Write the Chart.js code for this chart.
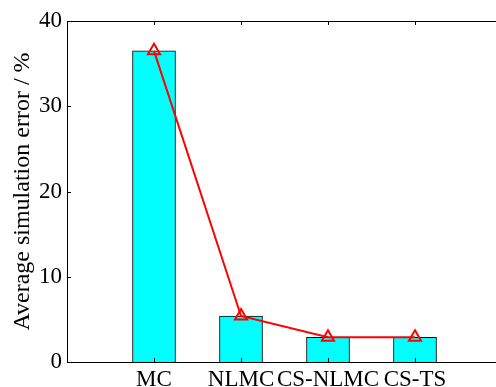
<!DOCTYPE html>
<html>
<head>
<meta charset="utf-8">
<script src="https://cdn.jsdelivr.net/npm/chart.js@4"></script>
<style>
  html, body { margin: 0; padding: 0; background: #fff; overflow: hidden; }
  #wrap { width: 496px; height: 387px; overflow: hidden; }
</style>
</head>
<body>
<div id="wrap"><canvas id="c" width="540" height="387" style="width:540px;height:387px"></canvas></div>
<script>
// methods on the x axis (positions 1..4, axis runs 0..5)
const methods = ['MC', 'NLMC', 'CS-NLMC', 'CS-TS'];
const barValues = [36.5, 5.4, 2.9, 2.9];
const lineValues = [36.5, 5.4, 2.9, 2.9];
const yTicks = [0, 10, 20, 30, 40];

const FONT = "'Liberation Serif', 'Times New Roman', serif";

// turns the arrays into {x, y} points at 1..n
const pts = vals => vals.map((v, i) => ({ x: i + 1, y: v }));

// matlab style box: top border and inward ticks
const boxPlugin = {
  id: 'box',
  afterDraw(chart) {
    const { ctx, chartArea: a, scales } = chart;
    ctx.save();
    ctx.strokeStyle = '#000';
    ctx.lineWidth = 1;
    ctx.beginPath();
    ctx.moveTo(a.left, a.top + 0.5);
    ctx.lineTo(a.right, a.top + 0.5);
    ctx.moveTo(a.right - 0.5, a.top);
    ctx.lineTo(a.right - 0.5, a.bottom);
    yTicks.forEach(t => {
      const y = Math.round(scales.y.getPixelForValue(t)) + 0.5;
      ctx.moveTo(a.left, y); ctx.lineTo(a.left + 4, y);
      ctx.moveTo(a.right, y); ctx.lineTo(a.right - 4, y);
    });
    methods.forEach((m, i) => {
      const x = Math.round(scales.x.getPixelForValue(i + 1)) + 0.5;
      ctx.moveTo(x, a.top); ctx.lineTo(x, a.top + 4);
      ctx.moveTo(x, a.bottom); ctx.lineTo(x, a.bottom - 4);
    });
    ctx.stroke();
    ctx.restore();
  }
};

new Chart(document.getElementById('c'), {
  type: 'bar',
  data: {
    datasets: [
      {
        type: 'line',
        data: pts(lineValues),
        borderColor: '#ff0000',
        borderWidth: 2,
        pointStyle: 'triangle',
        pointRadius: 7,
        pointBorderWidth: 2,
        pointBorderColor: '#ff0000',
        pointBackgroundColor: 'rgba(0,0,0,0)',
        order: 0
      },
      {
        type: 'bar',
        data: pts(barValues),
        backgroundColor: '#00ffff',
        borderColor: '#000',
        borderWidth: 1,
        barThickness: 43,
        order: 1
      }
    ]
  },
  options: {
    responsive: false,
    animation: false,
    layout: { padding: { top: 21, right: 38, left: 0, bottom: 0 } },
    plugins: { legend: { display: false }, tooltip: { enabled: false } },
    scales: {
      x: {
        type: 'linear',
        min: 0, max: 5,
        offset: false,
        grid: { display: false, drawTicks: false },
        border: { color: '#000', width: 1 },
        afterBuildTicks: s => { s.ticks = methods.map((m, i) => ({ value: i + 1 })); },
        ticks: {
          padding: 4,
          color: '#000',
          font: { family: FONT, size: 23 },
          maxRotation: 0,
          autoSkip: false,
          callback: v => methods[v - 1] || ''
        },
        afterFit: s => { s.height = 25; }
      },
      y: {
        min: 0, max: 40,
        grid: { display: false, drawTicks: false },
        border: { color: '#000', width: 1 },
        afterBuildTicks: s => { s.ticks = yTicks.map(v => ({ value: v })); },
        ticks: { padding: 5, color: '#000', font: { family: FONT, size: 23 } },
        title: {
          display: true,
          text: 'Average simulation error / %',
          color: '#000',
          font: { family: FONT, size: 24 },
          padding: { top: 8, bottom: 4 }
        },
        afterFit: s => { s.width = 67; }
      }
    }
  },
  plugins: [boxPlugin]
});
</script>
</body>
</html>
